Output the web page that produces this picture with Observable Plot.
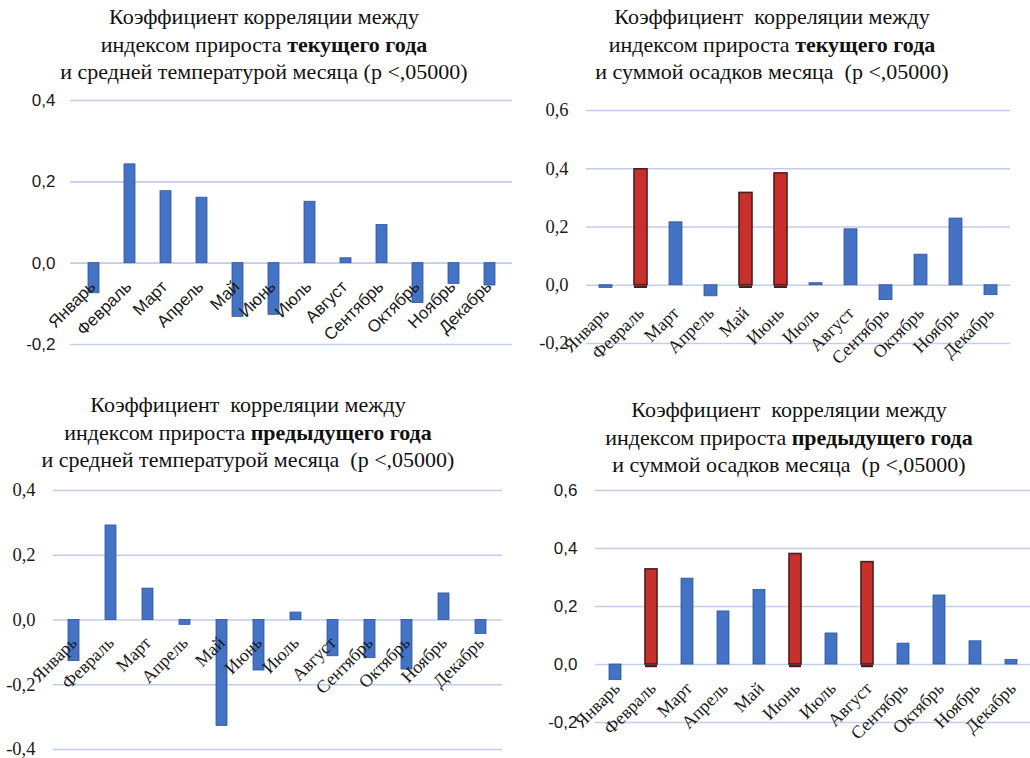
<!DOCTYPE html>
<html><head><meta charset="utf-8">
<script src="https://cdn.jsdelivr.net/npm/d3@7"></script>
<script src="https://cdn.jsdelivr.net/npm/@observablehq/plot@0.6"></script>
<style>
body{margin:0;background:#fff;}
#root{position:relative;width:1030px;height:758px;overflow:hidden;background:#fff;}
.title{position:absolute;font-family:"Liberation Serif","Times New Roman",serif;font-size:22px;line-height:27.5px;text-align:center;color:#111;white-space:pre;}
.panel{position:absolute;}
.panel svg{overflow:visible;}
</style></head><body><div id="root"></div>
<script>
const months = ["Январь","Февраль","Март","Апрель","Май","Июнь","Июль","Август","Сентябрь","Октябрь","Ноябрь","Декабрь"];
const tempCur  = [-0.074, 0.243, 0.177, 0.161, -0.132, -0.127, 0.151, 0.012, 0.094, -0.098, -0.051, -0.055];
const precCur  = [-0.009, 0.398, 0.216, -0.038, 0.317, 0.384, 0.007, 0.192, -0.051, 0.105, 0.229, -0.034];
const tempPrev = [-0.127, 0.292, 0.097, -0.015, -0.327, -0.156, 0.023, -0.112, -0.118, -0.153, 0.082, -0.043];
const precPrev = [-0.054, 0.328, 0.296, 0.183, 0.257, 0.381, 0.107, 0.353, 0.072, 0.238, 0.080, 0.016];
const sigPrecCur  = ["Февраль","Май","Июнь"];
const sigPrecPrev = ["Февраль","Июнь","Август"];
const ticksTempCur  = [-0.2, 0, 0.2, 0.4];
const ticksPrec     = [-0.2, 0, 0.2, 0.4, 0.6];
const ticksTempPrev = [-0.4, -0.2, 0, 0.2, 0.4];

const titleLine1a = "Коэффициент корреляции между";
const titleLine1b = "Коэффициент  корреляции между";
const titleLine2a = "индексом прироста ";
const boldCur = "текущего года";
const boldPrev = "предыдущего года";
const titleLine3Temp = "и средней температурой месяца (p <,05000)";
const titleLine3Temp2 = "и средней температурой месяца  (p <,05000)";
const titleLine3Prec = "и суммой осадков месяца  (p <,05000)";

const BLUE = "#4472c4", BLUE_S = "#2f5597", RED = "#c8312b", RED_S = "#4f1d1d", GRID = "#c3cdea";
const SANS = "'Liberation Sans', Arial, sans-serif";
const SERIF = "'Liberation Serif', 'Times New Roman', serif";
const fmt = v => d3.format(".1f")(v).replace("−", "-").replace(".", ",");

const root = document.getElementById("root");

function addTitle(t) {
  const div = document.createElement("div");
  div.className = "title";
  div.style.left = t.left + "px"; div.style.top = t.top + "px"; div.style.width = t.width + "px";
  div.innerHTML = `${t.line1}<br>${titleLine2a}<b>${t.bold}</b><br>${t.line3}`;
  root.appendChild(div);
}

function addPanel(c) {
  const data = months.map((m, i) => ({month: m, value: c.values[i], sig: c.sig.includes(m)}));
  const chart = Plot.plot({
    width: c.width, height: c.height,
    marginTop: c.mt, marginBottom: c.mb, marginLeft: c.ml, marginRight: c.mr,
    x: {domain: months, paddingInner: c.pad, paddingOuter: c.pad / 2, axis: null},
    y: {domain: [c.ticks[0], c.ticks[c.ticks.length - 1]], axis: null},
    color: {type: "identity"},
    style: {background: "transparent", color: "#1a1a1a", overflow: "visible"},
    marks: [
      Plot.ruleY(c.ticks, {stroke: GRID, strokeWidth: 1.6}),
      Plot.barY(data, {x: "month", y: "value", fill: d => d.sig ? RED : BLUE, stroke: d => d.sig ? RED_S : BLUE_S, strokeWidth: d => d.sig ? 1.6 : 0.8}),
      Plot.tickY(data.filter(d => d.sig), {x: "month", y: 0, stroke: RED_S, strokeWidth: 2.5, dy: 1.5}),
      Plot.text(c.ticks, {y: d => d, text: fmt, frameAnchor: "left", textAnchor: "end", dx: -c.tickPad, fontSize: c.tickSize, fontFamily: c.tickFont, fill: "#1a1a1a"}),
      Plot.text(data, {x: "month", y: 0, text: "month", rotate: -45, textAnchor: "end", lineAnchor: "top", dx: c.dx, dy: c.dy, fontSize: c.labelSize, fontFamily: c.labelFont, fill: "#1a1a1a"})
    ]
  });
  const div = document.createElement("div");
  div.className = "panel";
  div.style.left = c.left + "px"; div.style.top = c.top + "px";
  div.appendChild(chart);
  root.appendChild(div);
}

addTitle({left: 0, top: 3, width: 528, line1: titleLine1a, bold: boldCur, line3: titleLine3Temp});
addTitle({left: 520, top: 3, width: 504, line1: titleLine1b, bold: boldCur, line3: titleLine3Prec});
addTitle({left: 0, top: 391, width: 496, line1: titleLine1b, bold: boldPrev, line3: titleLine3Temp2});
addTitle({left: 548, top: 396, width: 482, line1: titleLine1b, bold: boldPrev, line3: titleLine3Prec});

addPanel({left: 0, top: 85, width: 520, height: 270, mt: 15, mb: 11, ml: 70, mr: 8, ticks: ticksTempCur, values: tempCur, sig: [], pad: 0.7, tickPad: 15, tickSize: 17, tickFont: SANS, labelSize: 17, labelFont: SANS, dx: -6, dy: 16});
addPanel({left: 520, top: 95, width: 510, height: 260, mt: 15, mb: 12, ml: 66, mr: 20, ticks: ticksPrec, values: precCur, sig: sigPrecCur, pad: 0.64, tickPad: 18, tickSize: 18.5, tickFont: SERIF, labelSize: 18, labelFont: SERIF, dx: -5, dy: 20});
addPanel({left: 0, top: 475, width: 520, height: 283, mt: 15, mb: 9, ml: 53, mr: 18, ticks: ticksTempPrev, values: tempPrev, sig: [], pad: 0.69, tickPad: 18, tickSize: 18.5, tickFont: SERIF, labelSize: 18, labelFont: SERIF, dx: -5, dy: 15});
addPanel({left: 520, top: 475, width: 510, height: 283, mt: 15, mb: 36, ml: 75, mr: 0, ticks: ticksPrec, values: precPrev, sig: sigPrecPrev, pad: 0.67, tickPad: 18, tickSize: 17, tickFont: SANS, labelSize: 18, labelFont: SERIF, dx: -3.5, dy: 16});
</script>
</body></html>
